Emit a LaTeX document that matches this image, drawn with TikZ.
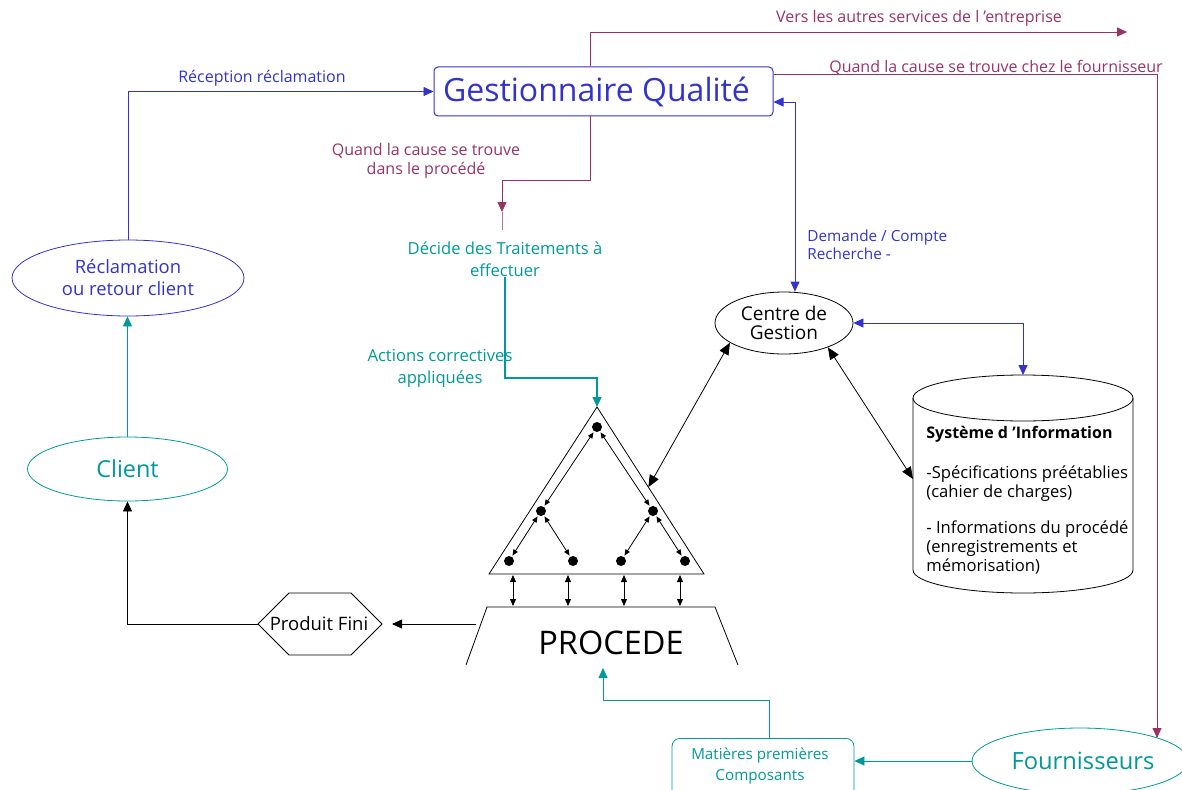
\documentclass[tikz,border=0pt]{standalone}
\usepackage{fontspec}
\setmainfont{Open Sans}
\usetikzlibrary{arrows.meta,shapes.geometric,calc}
\definecolor{qblue}{HTML}{3333CC}
\definecolor{qmag}{HTML}{993366}
\definecolor{qteal}{HTML}{009999}
\begin{document}
\begin{tikzpicture}[x=1pt,y=-1pt,line width=0.8pt,
  tip/.style={-{Triangle[length=10pt,width=9pt]}},
  dtip/.style={{Triangle[length=10pt,width=9pt]}-{Triangle[length=10pt,width=9pt]}},
  btip/.style={{Triangle[length=12pt,width=10pt]}-{Triangle[length=12pt,width=10pt]}},
  stip/.style={{Triangle[length=6pt,width=5pt]}-{Triangle[length=6pt,width=5pt]}},
  mtip/.style={{Triangle[length=7pt,width=6pt]}-{Triangle[length=7pt,width=6pt]}},
  lbl/.style={inner sep=0pt,align=center,font=\fontsize{16}{19}\selectfont},
  lblb/.style={inner sep=0pt,align=center,font=\fontsize{16.6}{22}\selectfont},
  dot/.style={circle,fill=black,inner sep=0pt,minimum size=10pt}]
\useasboundingbox (0,0) rectangle (1182,789);

% main nodes
\node[draw=qblue,rounded corners=4pt,line width=1pt,minimum width=339pt,minimum height=49pt,
  text=qblue,font=\fontsize{32}{34}\selectfont,inner sep=0pt] (gq) at (603.5,91.5) {\hspace*{-14pt}Gestionnaire Qualité};
\node[ellipse,draw=qblue,text=qblue,minimum width=232pt,minimum height=76pt,inner sep=0pt,
  align=center,font=\fontsize{18.4}{22}\selectfont] (rec) at (128,278) {Réclamation\\ou retour client};
\node[ellipse,draw=qteal,text=qteal,minimum width=200pt,minimum height=64pt,inner sep=0pt,
  font=\fontsize{23.4}{26}\selectfont] (cli) at (127.5,469) {Client};
\node[ellipse,draw,minimum width=138pt,minimum height=62pt,inner sep=0pt,align=center,
  font=\fontsize{19}{19}\selectfont] (cg) at (784,323) {Centre de\\Gestion};
\node[inner sep=0pt,font=\fontsize{18.5}{20}\selectfont] (pf) at (319,624) {Produit Fini};
\coordinate (pfL) at (258,624);
\coordinate (pfR) at (382,624);
\draw (pfL) -- (289,593) -- (351,593) -- (pfR) -- (351,655) -- (289,655) -- cycle;
\node[ellipse,draw=qteal,text=qteal,minimum width=216pt,minimum height=66pt,inner sep=0pt,
  font=\fontsize{23.7}{26}\selectfont] (fo) at (1080,761) {\hspace*{6pt}Fournisseurs};
\node[draw=qteal,rounded corners=8pt,minimum width=182pt,minimum height=62pt,inner sep=0pt,
  anchor=north,text=qteal] (mp) at (763,738) {};
\node[inner sep=0pt,align=center,text=qteal,font=\fontsize{15.2}{21}\selectfont] (mpt) at (760,765.5) {Matières premières\\Composants};

% cylinder (information system)
\draw (913,398) -- (913,570) arc[start angle=180,end angle=0,x radius=110,y radius=23] -- (1133,398);
\draw (1023,398) ellipse[x radius=110,y radius=23];
\node[inner sep=0pt,minimum width=220pt,minimum height=150pt] (si) at (1023,497) {};
\coordinate (sitop) at (1023,375);
\coordinate (sileft) at (913,479);
\node[inner sep=0pt,anchor=north west,align=left,font=\fontsize{16.6}{19}\selectfont] (sitxt) at (926,426)
  {{\fontsize{16}{19}\selectfont\textbf{Système d 'Information}}\\[21pt]-Spécifications préétablies\\(cahier de charges)\\[17pt]- Informations du procédé\\(enregistrements et\\mémorisation)};

% triangle and dots
\coordinate (tA) at (597,407);
\coordinate (tL) at (489,574);
\coordinate (tR) at (704,574);
\draw (tL) -- (tA) -- (tR) -- cycle;
\node[dot] (d1) at (597,427) {};
\node[dot] (d2) at (541,511) {};
\node[dot] (d3) at (653,511) {};
\node[dot] (d4) at (509,561) {};
\node[dot] (d5) at (573,561) {};
\node[dot] (d6) at (621,561) {};
\node[dot] (d7) at (685,561) {};
\draw[stip,shorten <=1pt,shorten >=1pt] (d1) -- (d2);
\draw[stip,shorten <=1pt,shorten >=1pt] (d1) -- (d3);
\draw[stip,shorten <=1pt,shorten >=1pt] (d2) -- (d4);
\draw[stip,shorten <=1pt,shorten >=1pt] (d2) -- (d5);
\draw[stip,shorten <=1pt,shorten >=1pt] (d3) -- (d6);
\draw[stip,shorten <=1pt,shorten >=1pt] (d3) -- (d7);

% procede
\draw (466,665) -- (487,607) -- (715,607) -- (738,665);
\node[inner sep=0pt,font=\fontsize{32.5}{34}\selectfont] (proc) at (611,643) {PROCEDE};
\foreach \x in {513,568,624,680} \draw[mtip] (\x,575) -- (\x,606);
\coordinate (procL) at (476,624);
\coordinate (procB) at (603,668);

% labels
\node[lbl,text=qmag] (lvers) at (919,18) {Vers les autres services de l 'entreprise};
\node[lbl,text=qmag] (lfour) at (996,68) {Quand la cause se trouve chez le fournisseur};
\node[lbl,text=qblue] (lrec) at (262,78) {Réception réclamation};
\node[lbl,text=qmag] (lproc) at (426,161) {Quand la cause se trouve\\dans le procédé};
\node[lblb,text=qteal] (dec) at (505,259) {Décide des Traitements à\\effectuer};
\node[lblb,text=qteal] (lact) at (440,368) {Actions correctives\\appliquées};
\node[inner sep=0pt,anchor=north west,align=left,text=qblue,font=\fontsize{15.3}{18}\selectfont] (ldem) at (807,229) {Demande / Compte\\Recherche -};

% connectors
\coordinate (vers) at (1127,32);
\draw[qmag,tip] ($(gq.north west)+(157,0)$) |- (vers);
\draw[qmag,tip] ($(gq.north east)+(0,8)$) -| ($(fo.center)+(77,-23)$);
\draw[qblue,dtip] ($(gq.east)+(0,10.5)$) -| ($(cg.north)+(11,0)$);
\draw[qblue,dtip] (cg.east) -| (sitop);
\draw[btip] (cg.-29) -- (sileft);
\draw[btip] (cg.200) -- ($(tA)!0.48!(tR)$);
\draw[qblue,tip] (rec.north) |- (gq.west);
\draw[qteal,tip] (cli.north) -- (cli.north |- rec.south);
\draw[tip] (pf.west -| pfL) -| (cli.south);
\draw[tip] (procL) -- ($(pfR)+(10,0)$);
\draw[qteal,tip] ($(mp.north)+(6,0)$) |- ($(procB)+(0,32)$) -- (procB);
\draw[qteal,tip] (fo.west) -- (fo.west -| mp.east);
\coordinate (magA) at (502,212);
\draw[qmag,tip] ($(gq.south west)+(157,0)$) |- (502,180) -- (magA);
\draw[qmag!70] (magA) -- ($(magA)+(0,18)$);
\draw[qteal,tip,line width=1.2pt] (dec.south) |- ($(tA)+(0,-29)$) -- (tA);
\end{tikzpicture}
\end{document}
